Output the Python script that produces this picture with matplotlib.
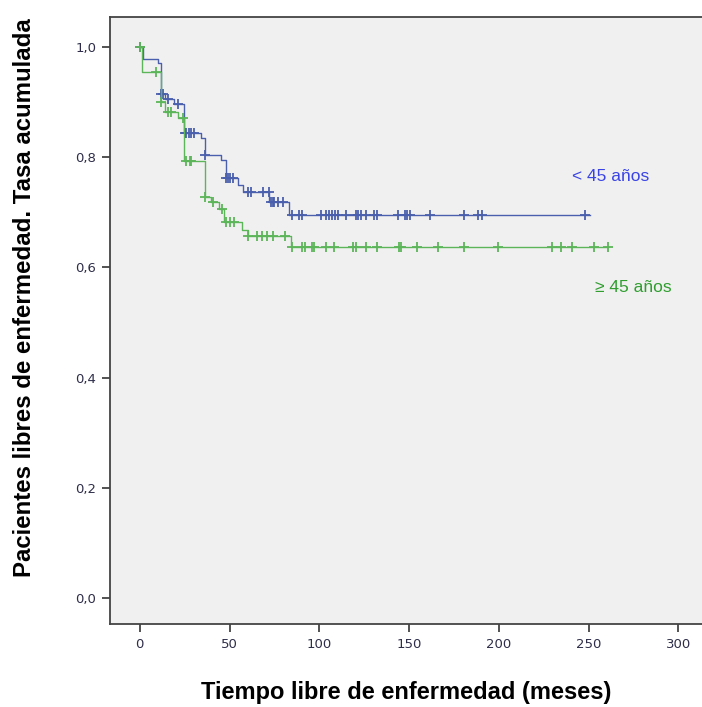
import matplotlib
matplotlib.use("Agg")
import matplotlib.pyplot as plt
import numpy as np
from matplotlib.ticker import FuncFormatter

# ---- data ----
# < 45 años : step times and survival after each step
young_times = [0, 2, 10, 12, 14, 19, 24.5, 34, 36.3, 45.3, 48, 54.5, 57.5, 72, 83, 250.5]
young_surv = [1.0, 0.978, 0.971, 0.914, 0.905, 0.897, 0.843, 0.834, 0.804, 0.795,
              0.762, 0.750, 0.737, 0.719, 0.695, 0.695]
young_cens = [0, 12, 13, 15.7, 21, 25, 26, 27.5, 28.5, 30, 36.3, 48, 49, 50, 51.7,
              60, 62, 68.4, 71.7, 73, 74, 75, 77, 80, 85, 88.7, 90.6, 100.8, 103.6,
              105.4, 107.3, 108.8, 110.6, 114.7, 120.2, 121.7, 123, 126.1, 130.3,
              132.2, 143.8, 147.9, 148.8, 150.7, 161.8, 180.8, 188.6, 190.5, 247.7]

# >= 45 años
old_times = [0, 1, 12, 14, 21, 24.6, 36.3, 39.5, 44, 47, 57, 60, 84, 261]
old_surv = [1.0, 0.955, 0.900, 0.882, 0.871, 0.792, 0.728, 0.719, 0.705, 0.683,
            0.668, 0.656, 0.636, 0.636]
old_cens = [0, 9.2, 12, 15.5, 17.5, 24, 26, 27.7, 28.6, 36.3, 40.6, 46, 48, 50, 52.4,
            60, 65, 68, 71, 74, 81, 85, 90.6, 92.1, 96.1, 97.1, 103.6, 108.2, 118.7,
            120.2, 125.7, 132.2, 144.6, 145.7, 154.4, 166, 180.8, 199.7, 229.6,
            234.8, 240.9, 252.9, 260.7]

x_ticks = [0, 50, 100, 150, 200, 250, 300]
y_ticks = [0.0, 0.2, 0.4, 0.6, 0.8, 1.0]

label_young = "< 45 años"
label_old = "\u2265 45 años"
xlabel = "Tiempo libre de enfermedad (meses)"
ylabel = "Pacientes libres de enfermedad. Tasa acumulada"

line_blue = "#4a5fad"
line_green = "#5db55a"
text_blue = "#3a44e6"
text_green = "#2f9e2f"

# ---- figure ----
fig = plt.figure(figsize=(7.02, 7.07), dpi=100)
ax = fig.add_axes([110 / 702, 83 / 707, 1 - 110 / 702 + 0.01, (624 - 17) / 707])
ax.set_facecolor("#f0f0f0")


def surv_at(times, surv, t):
    idx = np.searchsorted(times, t, side="right") - 1
    return np.asarray(surv)[idx]


for times, surv, cens, col in [
    (young_times, young_surv, young_cens, line_blue),
    (old_times, old_surv, old_cens, line_green),
]:
    ax.step(times, surv, where="post", color=col, lw=1.0)
    ax.plot(cens, surv_at(np.asarray(times), surv, np.asarray(cens)), linestyle="none",
            marker="+", markersize=7.5, mew=1.3, color=col)

ax.set_xlim(-16.6, 317)
ax.set_ylim(-0.047, 1.054)
ax.set_xticks(x_ticks)
ax.set_yticks(y_ticks)
ax.yaxis.set_major_formatter(FuncFormatter(lambda v, p: f"{v:.1f}".replace(".", ",")))

for s in ["left", "bottom", "top"]:
    ax.spines[s].set_color("#444444")
    ax.spines[s].set_linewidth(1.3)
ax.spines["right"].set_visible(False)
ax.tick_params(direction="out", length=6, width=1.3, color="#444444",
               labelsize=9.5, labelcolor="#2e2e4a", pad=4)

ax.text(262, 0.764, label_young, color=text_blue, fontsize=12.5, ha="center",
        va="center", family="Liberation Sans")
ax.text(275, 0.564, label_old, color=text_green, fontsize=12.5, ha="center",
        va="center", family="Liberation Sans")

fig.text(406 / 702, 1 - 692 / 707, xlabel, ha="center", va="center",
         fontsize=17, fontweight="bold", family="Liberation Sans")
fig.text(25 / 702, 1 - 298 / 707, ylabel, ha="center", va="center", rotation=90,
         fontsize=17.3, fontweight="bold", family="Liberation Sans")

fig.savefig("out.png", dpi=100)
